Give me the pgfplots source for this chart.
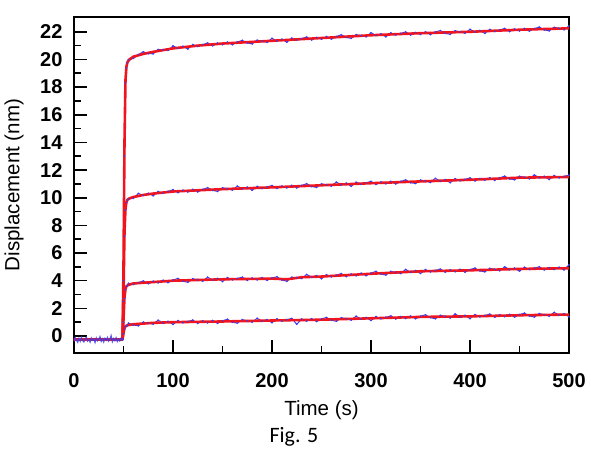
\documentclass[border=0pt]{standalone}
\usepackage{pgfplots}
\pgfplotsset{compat=1.18}
\usepackage{fontspec}
\setmainfont{Liberation Sans}
\newfontfamily\carlito{Carlito}
\definecolor{fitred}{RGB}{240,20,30}
\definecolor{datblue}{RGB}{60,60,235}
\pgfplotstableread{
x y
49 -0.2
50 4
51 13
52 18.3
53 19.4
54 19.75
55 19.98
60 20.08
65 20.35
70 20.55
75 20.42
80 20.41
85 20.72
90 20.70
95 20.65
100 20.98
105 20.81
110 20.95
115 20.76
120 21.07
125 20.95
130 21.07
135 21.19
140 20.99
145 21.18
150 21.07
155 21.25
160 21.07
165 21.26
170 21.38
175 21.19
180 21.13
185 21.39
190 21.33
195 21.24
200 21.53
205 21.34
210 21.46
215 21.25
220 21.54
225 21.40
230 21.51
235 21.62
240 21.41
245 21.59
250 21.47
255 21.65
260 21.47
265 21.66
270 21.78
275 21.59
280 21.53
285 21.79
290 21.73
295 21.64
300 21.93
305 21.74
310 21.85
315 21.64
320 21.92
325 21.78
330 21.88
335 21.99
340 21.77
345 21.95
350 21.82
355 21.99
360 21.80
365 21.98
370 22.09
375 21.89
380 21.82
385 22.07
390 22.00
395 21.90
400 22.18
405 21.99
410 22.10
415 21.89
420 22.17
425 22.03
430 22.13
435 22.24
440 22.02
445 22.20
450 22.07
455 22.24
460 22.05
465 22.23
470 22.34
475 22.14
480 22.07
485 22.32
490 22.25
495 22.15
500 22.43
}\dataA
\pgfplotstableread{
x y
49 -0.2
50 2.5
51 7.2
52 9.1
53 9.65
54 9.82
55 9.92
60 9.96
65 10.31
70 10.17
75 10.32
80 10.14
85 10.45
90 10.33
95 10.46
100 10.58
105 10.37
110 10.54
115 10.42
120 10.60
125 10.42
130 10.60
135 10.72
140 10.53
145 10.46
150 10.72
155 10.65
160 10.56
165 10.84
170 10.64
175 10.76
180 10.54
185 10.82
190 10.67
195 10.78
200 10.88
205 10.67
210 10.84
215 10.72
220 10.89
225 10.71
230 10.89
235 11.01
240 10.81
245 10.75
250 11.00
255 10.94
260 10.84
265 11.13
270 10.93
275 11.05
280 10.83
285 11.12
290 10.97
295 11.08
300 11.18
305 10.96
310 11.14
315 11.01
320 11.18
325 11.00
330 11.18
335 11.29
340 11.09
345 11.03
350 11.28
355 11.21
360 11.11
365 11.40
370 11.20
375 11.31
380 11.09
385 11.37
390 11.23
395 11.33
400 11.43
405 11.22
410 11.39
415 11.27
420 11.44
425 11.26
430 11.44
435 11.56
440 11.36
445 11.30
450 11.55
455 11.48
460 11.37
465 11.65
470 11.44
475 11.55
480 11.32
485 11.60
490 11.44
495 11.54
500 11.63
}\dataB
\pgfplotstableread{
x y
49 -0.2
50 1.0
51 2.7
52 3.35
53 3.58
54 3.66
55 3.81
60 3.73
65 3.86
70 3.98
75 3.78
80 3.96
85 3.85
90 4.03
95 3.86
100 4.05
105 4.16
110 3.96
115 3.89
120 4.14
125 4.07
130 3.97
135 4.25
140 4.05
145 4.16
150 3.94
155 4.22
160 4.06
165 4.16
170 4.25
175 4.03
180 4.19
185 4.06
190 4.22
195 4.03
200 4.20
205 4.28
210 4.05
215 3.96
220 4.25
225 4.22
230 4.16
235 4.45
240 4.25
245 4.36
250 4.14
255 4.43
260 4.29
265 4.40
270 4.51
275 4.30
280 4.48
285 4.36
290 4.54
295 4.36
300 4.55
305 4.67
310 4.48
315 4.41
320 4.67
325 4.61
330 4.52
335 4.81
340 4.61
345 4.73
350 4.52
355 4.80
360 4.64
365 4.74
370 4.84
375 4.62
380 4.78
385 4.65
390 4.82
395 4.62
400 4.80
405 4.91
410 4.71
415 4.64
420 4.89
425 4.82
430 4.72
435 5.00
440 4.80
445 4.91
450 4.69
455 4.97
460 4.81
465 4.91
470 5.00
475 4.78
480 4.94
485 4.81
490 4.97
495 4.78
500 5.15
}\dataC
\pgfplotstableread{
x y
49 -0.2
50 0.15
51 0.5
52 0.68
53 0.74
54 0.77
55 0.93
60 0.79
65 0.74
70 1.00
75 0.95
80 0.86
85 1.14
90 0.94
95 1.06
100 0.84
105 1.11
110 0.96
115 1.05
120 1.15
125 0.92
130 1.09
135 0.95
140 1.12
145 0.92
150 1.10
155 1.21
160 1.00
165 0.93
170 1.18
175 1.10
180 1.00
185 1.28
190 1.07
195 1.18
200 0.96
205 1.24
210 1.08
215 1.18
220 1.27
225 0.85
230 1.22
235 1.08
240 1.25
245 1.05
250 1.23
255 1.34
260 1.14
265 1.07
270 1.32
275 1.25
280 1.15
285 1.43
290 1.23
295 1.34
300 1.12
305 1.40
310 1.25
315 1.35
320 1.45
325 1.23
330 1.40
335 1.27
340 1.44
345 1.25
350 1.43
355 1.53
360 1.33
365 1.25
370 1.49
375 1.42
380 1.31
385 1.59
390 1.38
395 1.49
400 1.26
405 1.54
410 1.39
415 1.48
420 1.58
425 1.36
430 1.53
435 1.40
440 1.56
445 1.37
450 1.55
455 1.65
460 1.45
465 1.37
470 1.62
475 1.54
480 1.44
485 1.71
490 1.51
495 1.61
500 1.39
}\dataD
\pgfplotstableread{
x y
0 -0.40
1.25 -0.12
2.5 -0.30
3.75 -0.45
5 -0.18
6.25 -0.38
7.5 -0.10
8.75 -0.33
10 -0.42
11.25 -0.20
12.5 -0.08
13.75 -0.36
15 -0.25
16.25 -0.44
17.5 -0.15
18.75 -0.31
20 -0.22
21.25 -0.47
22.5 -0.14
23.75 -0.35
25 -0.26
26.25 -0.05
27.5 -0.39
28.75 -0.21
30 -0.43
31.25 -0.17
32.5 -0.30
33.75 -0.11
35 -0.37
36.25 -0.24
37.5 0.02
38.75 -0.41
40 -0.19
41.25 -0.34
42.5 -0.13
43.75 -0.40
45 -0.23
46.25 -0.36
47.5 -0.16
48.75 -0.30
49.5 -0.20
}\dataBase
\begin{document}
\begin{tikzpicture}
\useasboundingbox (-74pt,-103pt) rectangle (517pt,353pt);
\begin{axis}[
  scale only axis, width=495pt, height=336pt,
  xmin=0, xmax=500, ymin=-1.23, ymax=23.07,
  clip mode=individual,
  axis line style={line width=2pt},
  xtick={0,100,...,500}, ytick={0,2,...,22},
  minor x tick num=1, minor y tick num=1,
  xtick pos=bottom, ytick pos=left,
  tick align=inside,
  major tick length=13pt, minor tick length=7pt,
  every tick/.style={black, line width=1.6pt},
  /pgf/number format/assume math mode=true,
  ticklabel style={font=\fontsize{20}{22}\selectfont\bfseries},
  xticklabel style={yshift=-17pt},
  yticklabel style={xshift=-8pt},
  xlabel={Time (s)},
  ylabel={Displacement (nm)},
  label style={font=\fontsize{20.5}{22}\selectfont},
  xlabel style={at={([yshift=-57pt]axis description cs:0.5,0)}, anchor=center},
  ylabel style={at={([xshift=-60pt]axis description cs:0,0.5)}, anchor=center},
]
% data under the fits
\addplot[datblue, line width=1pt] table {\dataA};
\addplot[datblue, line width=1pt] table {\dataB};
\addplot[datblue, line width=1pt] table {\dataC};
\addplot[datblue, line width=1pt] table {\dataD};
% fitted curves (red)
\addplot[fitred, line width=2.6pt, line join=round] coordinates {
(0,-0.25)(49,-0.25)(50,5)(51,14)(52,18.5)(53,19.5)(54,19.8)(56,20.0)(60,20.2)(70,20.4)(80,20.55)(100,20.8)(125,21.0)(150,21.15)(200,21.35)(250,21.55)(300,21.75)(350,21.9)(400,22.0)(450,22.15)(500,22.25)
};
\addplot[fitred, line width=2.6pt, line join=round] coordinates {
(0,-0.25)(49,-0.25)(50,3)(51,7.5)(52,9.2)(53,9.7)(54,9.85)(56,9.95)(60,10.05)(70,10.2)(80,10.3)(100,10.45)(150,10.62)(200,10.75)(250,10.9)(300,11.05)(350,11.18)(400,11.3)(450,11.45)(500,11.5)
};
\addplot[fitred, line width=2.6pt, line join=round] coordinates {
(0,-0.25)(49,-0.25)(50,1.2)(51,2.8)(52,3.4)(53,3.6)(55,3.7)(60,3.8)(80,3.9)(100,4.0)(150,4.1)(200,4.15)(215,4.1)(230,4.25)(250,4.3)(300,4.5)(350,4.68)(400,4.75)(450,4.85)(500,4.9)
};
\addplot[fitred, line width=2.6pt, line join=round] coordinates {
(0,-0.25)(49,-0.25)(50,0.2)(51,0.55)(52,0.7)(54,0.78)(60,0.85)(80,0.95)(100,1.0)(150,1.05)(200,1.12)(250,1.18)(300,1.28)(350,1.38)(400,1.42)(450,1.5)(500,1.55)
};
% data over the fits
\addplot[datblue, line width=1.2pt, opacity=0.85] table {\dataBase};
\addplot[only marks, mark=*, mark size=0.7pt, datblue, opacity=0.8] table {\dataA};
\addplot[only marks, mark=*, mark size=0.7pt, datblue, opacity=0.8] table {\dataB};
\addplot[only marks, mark=*, mark size=0.7pt, datblue, opacity=0.8] table {\dataC};
\addplot[only marks, mark=*, mark size=0.7pt, datblue, opacity=0.8] table {\dataD};
\node[font=\carlito\fontsize{22}{24}\selectfont, anchor=center] at ([xshift=220pt,yshift=-84pt]axis description cs:0,0) {Fig. 5};
\end{axis}
\end{tikzpicture}
\end{document}
